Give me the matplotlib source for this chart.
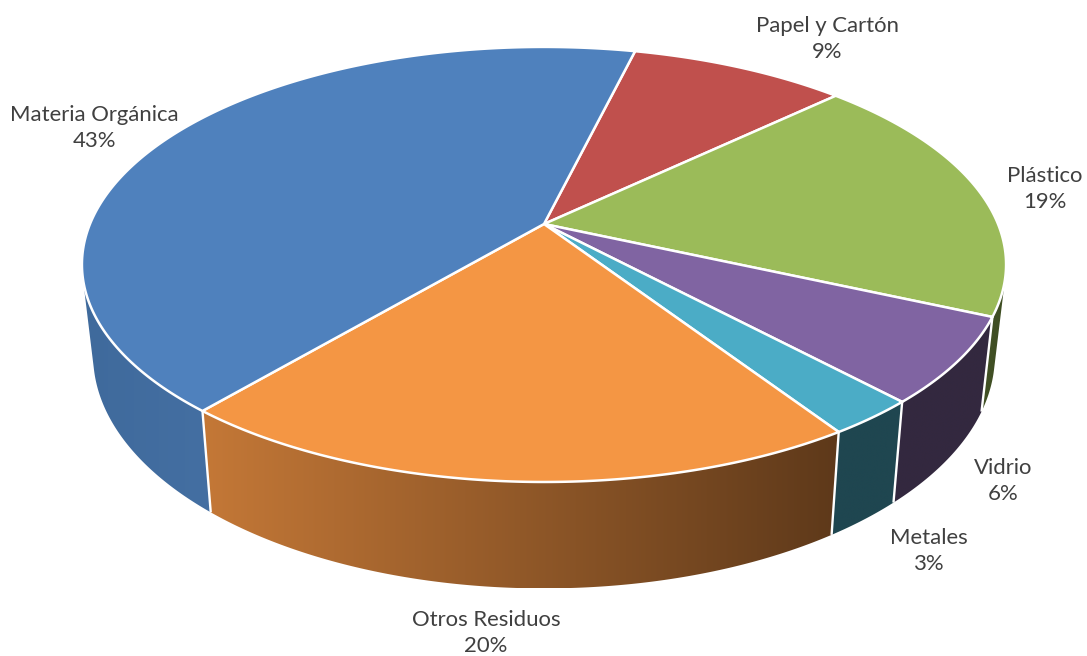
import numpy as np
import matplotlib
matplotlib.use("Agg")
import matplotlib.pyplot as plt
from matplotlib.patches import Polygon
from matplotlib.colors import to_rgb

categories = ["Papel y Cartón", "Plástico", "Vidrio", "Metales", "Otros Residuos", "Materia Orgánica"]
shares = [9.1, 18.8, 6.36, 2.7, 20.4, 42.64]

top_colors = ["#C0504D", "#9BBB59", "#8064A2", "#4BACC6", "#F49644", "#4F81BD"]
wall_left = ["#6E2D2B", "#46552A", "#33293F", "#1F4650", "#C47837", "#3F6A9C"]
wall_right = ["#6E2D2B", "#3E4D22", "#33283F", "#1F4650", "#5E391A", "#446FA2"]
label_xy = [(827, 38), (1045, 188), (1003, 480), (929, 550), (486, 632), (94, 127)]

START = 13.7
CX, CY, K = 544.0, 224.0, 0.186
A_TOP, B_TOP = 454.0, 210.0
A_BOT, B_BOT, Y_BOT = 443.0, 225.0, 312.0


def top_xy(deg):
    t = np.radians(deg)
    x, u = np.sin(t), -np.cos(t)
    d = 1 - K * u
    return CX + A_TOP * x / d, CY + B_TOP * u / d


def bottom_xy(deg):
    t = np.radians(deg)
    x, u = np.sin(t), -np.cos(t)
    d = 1 - K * u
    return CX + A_BOT * x / d, Y_BOT + B_BOT * u / d


def hull(points):
    pts = sorted(map(tuple, points))

    def half(seq):
        out = []
        for p in seq:
            while len(out) >= 2 and ((out[-1][0] - out[-2][0]) * (p[1] - out[-2][1])
                                     - (out[-1][1] - out[-2][1]) * (p[0] - out[-2][0])) <= 0:
                out.pop()
            out.append(p)
        return out[:-1]

    return np.array(half(pts) + half(pts[::-1]))


fig = plt.figure(figsize=(10.87, 6.56), dpi=100)
ax = fig.add_axes([0, 0, 1, 1])
ax.set_xlim(0, 1087)
ax.set_ylim(656, 0)
ax.axis("off")

edges = START + np.concatenate([[0], np.cumsum(shares)]) * 360.0 / sum(shares)

# side walls (only the part turned towards the viewer), horizontal gradient clipped to each wall
for i in range(len(shares)):
    a0, a1 = edges[i], edges[i + 1]
    grid = np.linspace(a0, a1, max(3, int((a1 - a0) * 3)))
    grid = grid[-np.cos(np.radians(grid)) > -0.25]
    if len(grid) < 2:
        continue
    xt, yt = top_xy(grid)
    xb, yb = bottom_xy(grid)
    outline = hull(np.column_stack([np.r_[xt, xb], np.r_[yt, yb]]))
    c0, c1 = np.array(to_rgb(wall_left[i])), np.array(to_rgb(wall_right[i]))
    ramp = np.linspace(0, 1, 256)[None, :, None]
    img = c0[None, None, :] + (c1 - c0)[None, None, :] * ramp
    extent = (outline[:, 0].min(), outline[:, 0].max(), outline[:, 1].max(), outline[:, 1].min())
    patch = Polygon(outline, closed=True, transform=ax.transData, facecolor="none", edgecolor="none")
    ax.add_patch(patch)
    im = ax.imshow(img, extent=extent, aspect="auto", zorder=2 + 0.01 * i, interpolation="bilinear")
    im.set_clip_path(patch)

ax.set_xlim(0, 1087)
ax.set_ylim(656, 0)

# white seams between walls
for a in edges:
    if -np.cos(np.radians(a)) > 0.0:
        xt, yt = top_xy(a)
        xb, yb = bottom_xy(a)
        ax.plot([xt, xb], [yt, yb], color="white", lw=1.7, zorder=3, solid_capstyle="butt")

# top faces
for i in range(len(shares)):
    grid = np.linspace(edges[i], edges[i + 1], 200)
    xs, ys = top_xy(grid)
    ax.fill(np.r_[CX, xs], np.r_[CY, ys], facecolor=top_colors[i], edgecolor="white",
            lw=1.8, joinstyle="round", zorder=4)

# labels
for name, share, (lx, ly) in zip(categories, shares, label_xy):
    ax.text(lx, ly + 1, f"{name}\n{share:.0f}%", ha="center", va="center", family="Lato",
            fontsize=15.9, color="#404040", linespacing=1.42, zorder=5)

fig.savefig("out.png", dpi=100)
